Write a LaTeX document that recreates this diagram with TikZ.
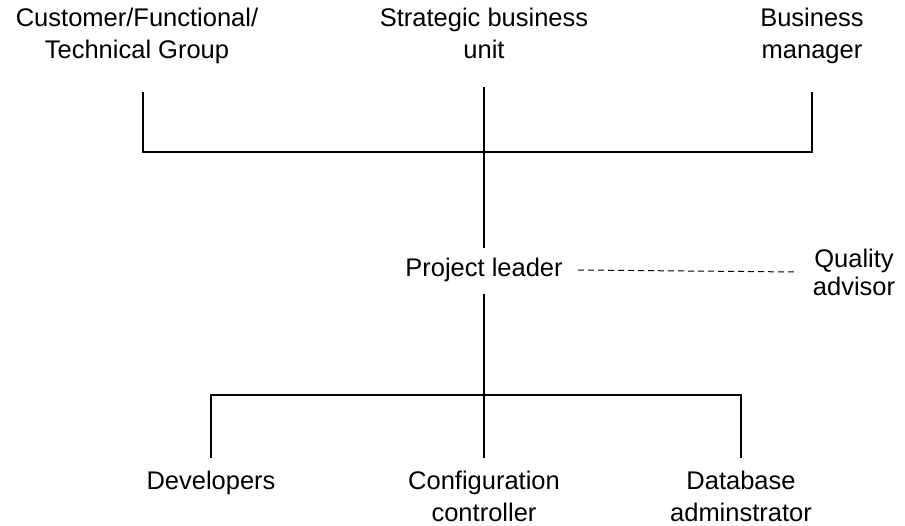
\documentclass[tikz,border=0pt]{standalone}
\usepackage{fontspec}
\setmainfont{Liberation Sans}
\usetikzlibrary{positioning}

\begin{document}
\begin{tikzpicture}[x=1pt,y=-1pt,line width=1.1pt,
    every node/.style={inner sep=0pt,align=center,
      font=\fontsize{25.5}{32}\selectfont}]
    \useasboundingbox (0,0) rectangle (905,525);
    % top row
    \node[anchor=north](cust) at (137,7){Customer/Functional/\\Technical Group};
    \node[anchor=north](sbu) at (484,7){Strategic business\\unit};
    \node[anchor=north](mgr) at (812,7){Business\\manager};
    \node(lead) at (484,270){Project leader};
    \node[font=\fontsize{25.5}{28}\selectfont](qual) at (854,272){Quality\\advisor};
    % bottom row
    \node[anchor=north](dev) at (211,470){Developers};
    \node[anchor=north](conf) at (484,470){Configuration\\controller};
    \node[anchor=north](dba) at (741,470){Database\\adminstrator};
    \coordinate(topbar) at (484,152);
    \coordinate(botbar) at (484,395);
    \draw([xshift=6pt,yshift=-28pt]cust.south)|-(topbar)-|([yshift=-28pt]mgr.south);
    \draw([yshift=-28pt]sbu.south)--([yshift=10pt]lead.north);
    \draw([yshift=-12pt]lead.south)--([yshift=12pt]conf.north);
    \draw([yshift=12pt]dev.north)|-(botbar)-|([yshift=12pt]dba.north);
    \draw[dashed,line width=1pt,dash pattern=on 6pt off 4pt]
      ([xshift=15pt]lead.east)--([xshift=-14pt]qual.west);
\end{tikzpicture}
\end{document}
